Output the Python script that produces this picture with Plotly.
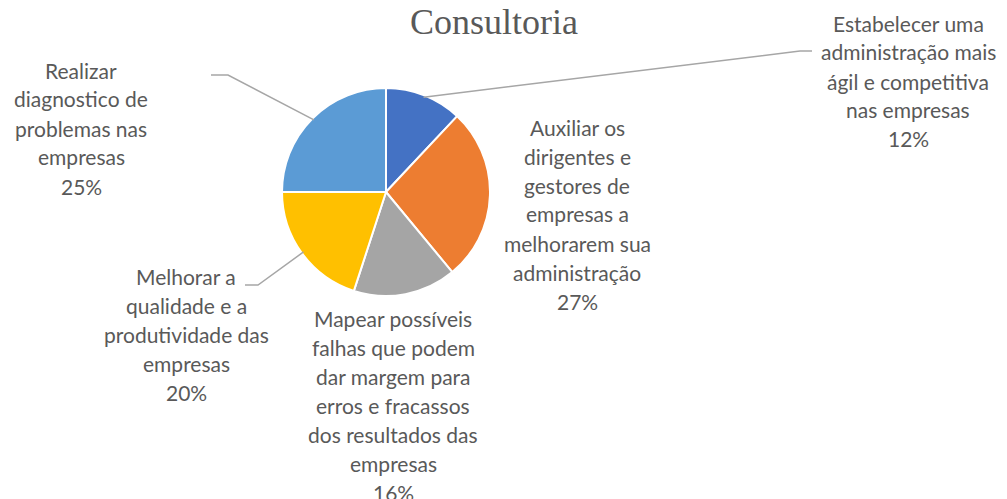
import math
import plotly.graph_objects as go

W, H = 1007, 499
OX, OY = 8, 8  # page offset of the figure inside the window

title_text = "Consultoria"
labels = [
    "Estabelecer uma administração mais ágil e competitiva nas empresas",
    "Auxiliar os dirigentes e gestores de empresas a melhorarem sua administração",
    "Mapear possíveis falhas que podem dar margem para erros e fracassos dos resultados das empresas",
    "Melhorar a qualidade e a produtividade das empresas",
    "Realizar diagnostico de problemas nas empresas",
]
label_lines = [
    ["Estabelecer uma", "administração mais", "ágil e competitiva", "nas empresas"],
    ["Auxiliar os", "dirigentes e", "gestores de", "empresas a", "melhorarem sua", "administração"],
    ["Mapear possíveis", "falhas que podem", "dar margem para", "erros e fracassos", "dos resultados das", "empresas"],
    ["Melhorar a", "qualidade e a", "produtividade das", "empresas"],
    ["Realizar", "diagnostico de", "problemas nas", "empresas"],
]
values = [12, 27, 16, 20, 25]
colors = ["#4472C4", "#ED7D31", "#A5A5A5", "#FFC000", "#5B9BD5"]

# layout (pixel positions in the window)
cx, cy, R = 386, 192, 104
label_pos = [(908, 23), (577, 127), (393, 318), (186, 276), (81, 70)]  # center x, first line y
line_gap = 29
leader_ends = {0: [(800, 51), (812, 51)], 3: [(258, 285), (245, 285)], 4: [(228, 75), (211, 75)]}


def px(x):
    return (x - OX) / W


def py(y):
    return 1 - (y - OY) / H


fig = go.Figure(go.Pie(
    labels=labels,
    values=values,
    marker=dict(colors=colors, line=dict(color="white", width=2)),
    sort=False,
    direction="clockwise",
    rotation=0,
    textinfo="none",
    hoverinfo="label+percent",
    domain=dict(x=[px(cx - R), px(cx + R)], y=[py(cy + R), py(cy - R)]),
    showlegend=False,
))

annotations = [dict(
    text=title_text, x=px(494), y=py(22), xref="paper", yref="paper",
    showarrow=False, xanchor="center", yanchor="middle",
    font=dict(family="Liberation Serif", size=36, color="#595959"),
)]

total = sum(values)
for i, (lines, v) in enumerate(zip(label_lines, values)):
    pct = f"{round(100 * v / total)}%"
    x0, y0 = label_pos[i]
    for j, t in enumerate(lines + [pct]):
        annotations.append(dict(
            text=t, x=px(x0), y=py(y0 + j * line_gap), xref="paper", yref="paper",
            showarrow=False, xanchor="center", yanchor="middle",
            font=dict(family="Lato", size=21, color="#595959"),
        ))

shapes = []
cum = 0
for i, v in enumerate(values):
    mid = (cum + v / 2) / total * 2 * math.pi
    cum += v
    if i not in leader_ends:
        continue
    sx = cx + R * 0.98 * math.sin(mid)
    sy = cy - R * 0.98 * math.cos(mid)
    pts = [(sx, sy)] + leader_ends[i]
    path = "M " + " L ".join(f"{px(a)},{py(b)}" for a, b in pts)
    shapes.append(dict(type="path", path=path, xref="paper", yref="paper",
                       line=dict(color="#A6A6A6", width=1.5)))

fig.update_layout(
    width=W, height=H,
    margin=dict(l=0, r=0, t=0, b=0),
    paper_bgcolor="white",
    plot_bgcolor="white",
    annotations=annotations,
    shapes=shapes,
)

fig.write_html("out.html")
